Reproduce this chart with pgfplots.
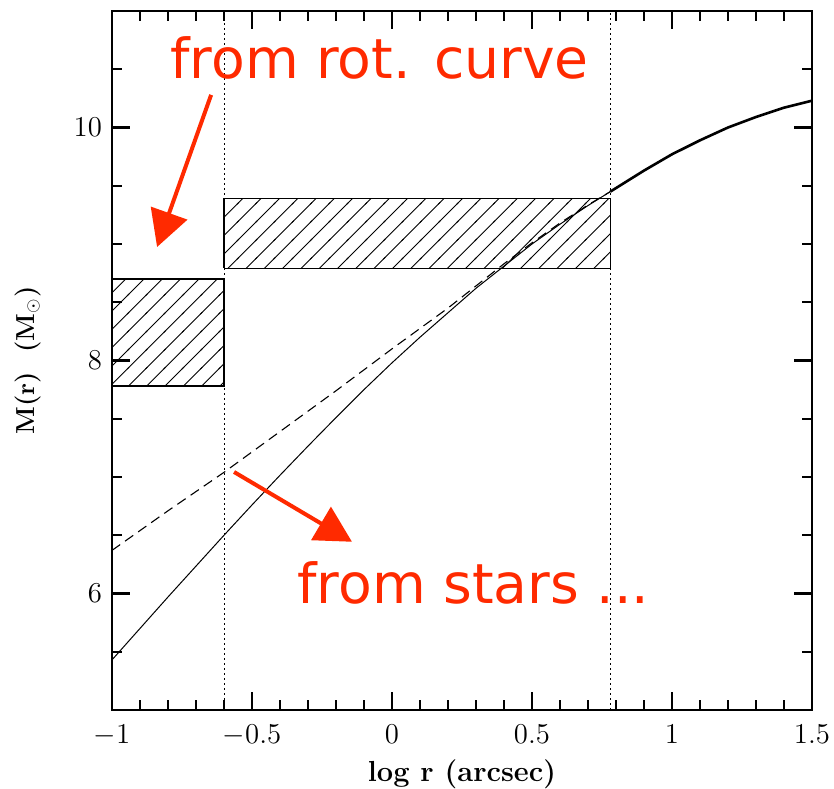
\documentclass[border=0pt]{standalone}
\usepackage{pgfplots}
\pgfplotsset{compat=1.18}
\usepackage{pgfplotstable}
\usepackage{fontspec}
\newfontfamily\notefont{DejaVu Sans}
\usetikzlibrary{patterns,arrows.meta}
\definecolor{notered}{RGB}{255,42,0}

% 45 degree hatching, 9.15pt apart along the horizontal
\pgfdeclarepatternformonly{hatch}{\pgfqpoint{-1pt}{-1pt}}{\pgfqpoint{10.15pt}{10.15pt}}{\pgfqpoint{9.15pt}{9.15pt}}{%
  \pgfsetlinewidth{0.45pt}%
  \pgfpathmoveto{\pgfqpoint{-0.5pt}{-0.5pt}}%
  \pgfpathlineto{\pgfqpoint{9.65pt}{9.65pt}}%
  \pgfusepath{stroke}%
}

% enclosed mass, total model (solid)
\pgfplotstableread{
x y
-1.0 5.43
-0.9 5.70
-0.8 5.97
-0.7 6.235
-0.6 6.50
-0.5 6.76
-0.4 7.015
-0.3 7.265
-0.2 7.51
-0.1 7.75
0.0 7.98
0.1 8.20
0.2 8.41
0.3 8.62
0.4 8.81
0.5 9.00
0.6 9.17
0.7 9.33
0.78 9.45
}\inner
\pgfplotstableread{
x y
0.78 9.45
0.8 9.48
0.9 9.63
1.0 9.77
1.1 9.89
1.2 10.00
1.3 10.09
1.4 10.17
1.5 10.23
}\outer
% stellar mass only (dashed)
\pgfplotstableread{
x y
-1.0 6.37
-0.8 6.71
-0.6 7.04
-0.4 7.39
-0.2 7.74
0.0 8.10
0.2 8.45
0.4 8.83
0.5 9.01
0.6 9.18
0.7 9.335
0.78 9.45
}\stars

\begin{document}
\begin{tikzpicture}
\begin{axis}[
  scale only axis,
  width=350pt, height=349.5pt,
  xmin=-1, xmax=1.5, ymin=5, ymax=11,
  xtick={-1,-0.5,0,0.5,1,1.5},
  xticklabels={$-1$,$-0.5$,$0$,$0.5$,$1$,$1.5$},
  minor x tick num=4,
  ytick={6,8,10},
  minor ytick={5.5,6.5,7,7.5,8.5,9,9.5,10.5},
  tick align=inside,
  xtick pos=both, ytick pos=both,
  xticklabel pos=bottom, yticklabel pos=left,
  major tick length=9pt, minor tick length=5pt,
  every major tick/.append style={line width=1.1pt, black},
  every minor tick/.append style={line width=0.8pt, black},
  axis line style={line width=1.2pt},
  tick label style={font=\fontsize{13.5}{15}\selectfont},
  xticklabel style={yshift=-4pt},
  yticklabel style={xshift=-1.5pt},
  every axis x label/.style={at={(axis description cs:0.5,-0.103)}, anchor=base},
  every axis y label/.style={at={(axis description cs:-0.12,0.5)}, rotate=90, anchor=center},
  xlabel={\fontsize{14.5}{16}\selectfont\bfseries log r (arcsec)},
  ylabel={\fontsize{13}{15}\selectfont\bfseries M(r)\ \ (M$_{\odot}$)},
  clip=false,
]
% aperture radii
\addplot[black, line width=0.5pt, dash pattern=on 1pt off 1.5pt] coordinates {(-0.6,5) (-0.6,11)};
\addplot[black, line width=0.5pt, dash pattern=on 1pt off 1.5pt] coordinates {(0.78,5) (0.78,11)};
% mass ranges from the rotation curve
\addplot[draw=black, line width=0.7pt, pattern=hatch]
  coordinates {(-1,7.78) (-0.6,7.78) (-0.6,8.70) (-1,8.70) (-1,7.78)};
\addplot[draw=black, line width=0.7pt, pattern=hatch]
  coordinates {(-0.6,8.79) (0.78,8.79) (0.78,9.39) (-0.6,9.39) (-0.6,8.79)};
% mass profiles
\addplot[black, line width=0.55pt, dash pattern=on 5pt off 3pt] table[x=x,y=y] {\stars};
\addplot[black, line width=0.5pt] table[x=x,y=y] {\inner};
\addplot[black, line width=1.3pt] table[x=x,y=y] {\outer};
% annotations
\draw[notered, line width=2pt, -{Triangle[length=18pt,width=19pt]}]
  (axis cs:-0.646,10.28) -- (axis cs:-0.839,8.974);
\draw[notered, line width=2pt, -{Triangle[length=18pt,width=19pt]}]
  (axis cs:-0.564,7.043) -- (axis cs:-0.143,6.444);
\node[anchor=base west, inner sep=0pt, text=notered, font=\notefont\fontsize{27.6}{30}\selectfont]
  at (axis cs:-0.793,10.419) {from rot. curve};
\node[anchor=base west, inner sep=0pt, text=notered, font=\notefont\fontsize{27.6}{30}\selectfont]
  at (axis cs:-0.339,5.915) {from stars ...};
\end{axis}
\pgfresetboundingbox
\path[use as bounding box] ([xshift=-56pt,yshift=-39.5pt]current axis.south west)
  rectangle ([xshift=11pt,yshift=5.5pt]current axis.north east);
\end{tikzpicture}
\end{document}
